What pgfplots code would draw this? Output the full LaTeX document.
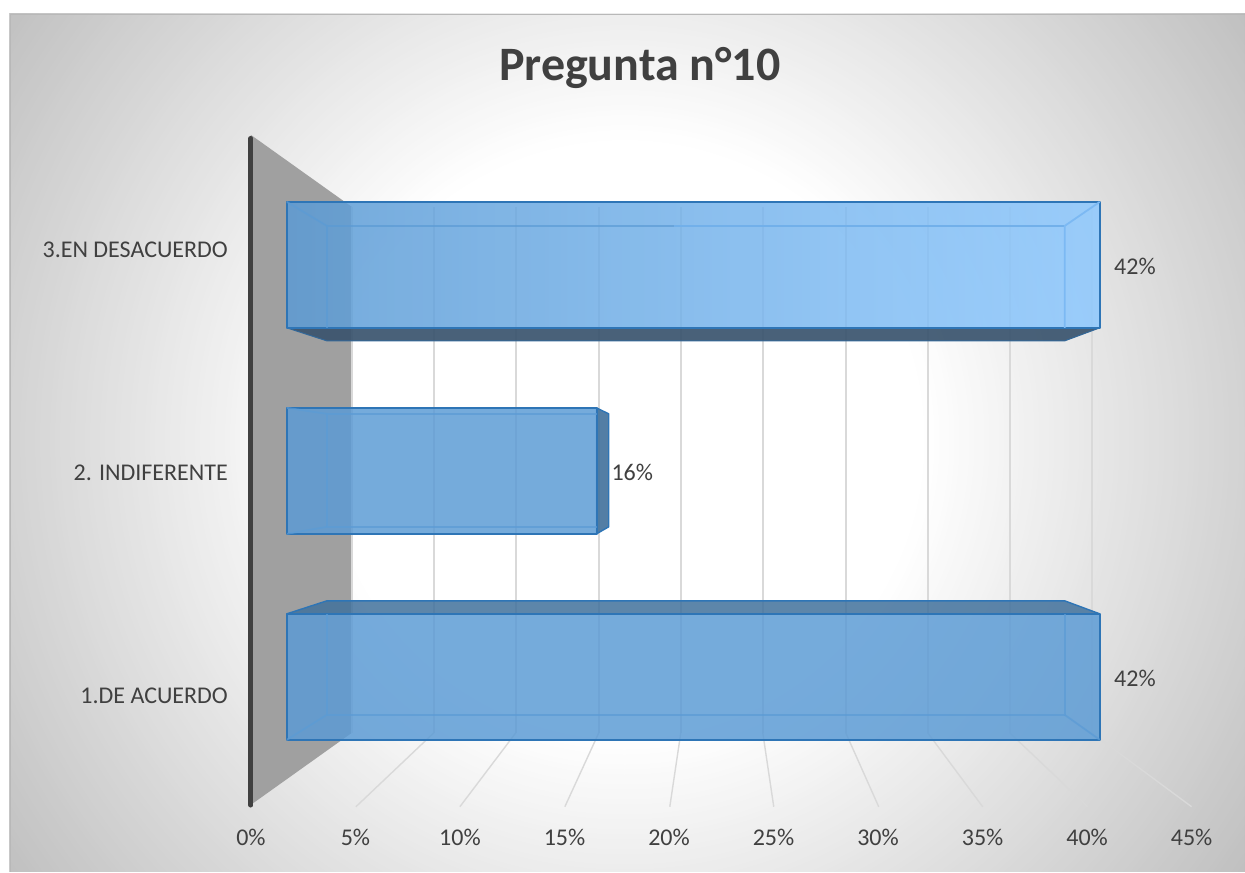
\documentclass[border=0pt]{standalone}
\usepackage{pgfplots}
\pgfplotsset{compat=1.18}
\usepackage{fontspec}
\setmainfont{Carlito}

\definecolor{txt}{HTML}{404040}
\definecolor{wall}{HTML}{A0A0A0}
\definecolor{gridc}{HTML}{D9D9D9}
\definecolor{barc}{HTML}{5B9BD5}
\definecolor{barlight}{HTML}{8CC8FF}
\definecolor{backlight}{HTML}{7CB9F3}
\definecolor{edgec}{HTML}{2E75B6}
\definecolor{darkc}{HTML}{41719C}
\definecolor{under}{HTML}{3A546E}

\pgfplotsset{
  lab/.style={
    point meta=x,
    nodes near coords={\pgfmathprintnumber{\pgfplotspointmeta}\%},
    every node near coord/.append style={text=txt,text opacity=1,fill opacity=1,
      font=\fontsize{12}{14}\selectfont,anchor=west,inner sep=0pt,xshift=6.75pt,yshift=-1pt}},
  back/.style={barc,line width=0.9pt,opacity=0.7,line join=round},
  front/.style={xbar,bar shift=0pt,bar width=63pt,draw=edgec,line width=1pt,
    line join=round,fill opacity=0.84,lab},
}

\begin{document}
\begin{tikzpicture}[x=1pt,y=1pt]
  % page and chart panel, 1 px = 0.5 pt
  \fill[white] (0,0) rectangle (622.5,436);
  \begin{scope}
    \clip (5,0) rectangle (622.5,429);
    \foreach \r in {400,397.5,...,150} {
      \pgfmathsetmacro{\p}{0.108*(\r-150)}
      \fill[black!\p] (312.5,216) circle (\r);
    }
    \fill[white] (312.5,216) circle (150);
  \end{scope}
  \draw[black!28,line width=0.4pt] (5,0) -- (5,429) -- (622.5,429);

  % wall, floor and back grid in pixel coordinates
  \begin{axis}[
      at={(0,0)},anchor=south west,scale only axis,
      width=622.5pt,height=436pt,
      xmin=0,xmax=1245,ymin=0,ymax=872,y dir=reverse,
      hide axis,clip=false,unbounded coords=jump]
    \addplot[fill=wall,draw=none] coordinates {(251,135)(352,207)(352,733)(251,805)} --cycle;
    \addplot[gridc,line width=1pt] coordinates {
      (352,207)(352,733)(352,nan)
      (434,207)(434,733)(434,nan)
      (516,207)(516,733)(516,nan)
      (599,207)(599,733)(599,nan)
      (681,207)(681,733)(681,nan)
      (763,207)(763,733)(763,nan)
      (846,207)(846,733)(846,nan)
      (928,207)(928,733)(928,nan)
      (1010,207)(1010,733)(1010,nan)
      (1092,207)(1092,733)};
    \addplot[gridc,line width=0.7pt] coordinates {
      (434,733)(356,807)(356,nan)
      (516,733)(460,807)(460,nan)
      (599,733)(565,807)(565,nan)
      (681,733)(670,807)(670,nan)
      (763,733)(774,807)(774,nan)
      (846,733)(879,807)(879,nan)
      (928,733)(983,807)(983,nan)
      (1010,733)(1088,807)(1088,nan)
      (1092,733)(1192,807)};
    \node[text=txt,font=\fontsize{24}{28}\selectfont\bfseries] at (axis cs:640,68) {Pregunta n°10};
  \end{axis}

  % value and category axis of the front plane
  \begin{axis}[
      at={(125.5pt,32.25pt)},anchor=south west,scale only axis,
      width=470.5pt,height=334.5pt,
      xmin=0,xmax=45,ymin=-0.5,ymax=2.5,
      xtick={0,5,...,45},
      xticklabel={\pgfmathprintnumber{\tick}\%},
      ytick={0,1,2},
      yticklabels={1.DE ACUERDO,2. INDIFERENTE,3.EN DESACUERDO},
      /pgf/number format/assume math mode=true,
      axis line style={draw=none},
      major tick length=0pt,
      tick label style={text=txt,font=\fontsize{12}{14}\selectfont},
      x tick label style={yshift=-7.5pt},
      y tick label style={xshift=-8pt},
      clip=false]
    \addplot[color=txt,line width=2.5pt,line cap=round] coordinates {(0,-0.49)(0,2.5)};
  \end{axis}

  % bars, x in percent, y by category
  \begin{axis}[
      at={(0,0)},anchor=south west,scale only axis,
      width=622.5pt,height=436pt,
      xmin=-14.827,xmax=49.49,ymin=-0.9466,ymax=3.2864,
      hide axis,clip=false,
      /pgf/number format/assume math mode=true]

    % 3. EN DESACUERDO
    \addplot[fill=under,fill opacity=0.92,draw=edgec!60!under,line width=0.5pt,line join=round] coordinates {(0,1.6942)(42,1.6942)(40.19,1.6311)(2.066,1.6311)} --cycle;
    \addplot[front,left color=barc,right color=barlight] coordinates {(42,2)};
    \addplot[back] coordinates {(2.066,1.6942)(2.066,2.1893)(20,2.1893)};
    \addplot[back] coordinates {(0,2.3058)(2.066,2.1893)};
    \addplot[backlight!70!barc,line width=0.9pt] coordinates {(20,2.1893)(40.19,2.1893)};
    \addplot[backlight,line width=0.9pt] coordinates {(40.19,1.6942)(40.19,2.1893)(42,2.3058)};

    % 2. INDIFERENTE
    \addplot[fill=darkc,fill opacity=0.9,draw=edgec,line width=0.7pt,line join=round] coordinates {(16,1.3058)(16.63,1.2767)(16.63,0.7282)(16,0.6942)} --cycle;
    \addplot[front,fill=barc,every node near coord/.append style={xshift=0.25pt}] coordinates {(16,1)};
    \addplot[back] coordinates {(16,1.2767)(2.066,1.2767)(2.066,0.7282)(16,0.7282)};
    \addplot[back] coordinates {(0,1.3058)(2.066,1.2767)};
    \addplot[back] coordinates {(0,0.6942)(2.066,0.7282)};

    % 1. DE ACUERDO
    \addplot[fill=darkc,fill opacity=0.85,draw=edgec,line width=0.7pt,line join=round] coordinates {(0,0.3058)(42,0.3058)(40.19,0.3689)(2.066,0.3689)} --cycle;
    \addplot[front,fill=barc] coordinates {(42,0)};
    \addplot[back] coordinates {(2.066,0.3058)(2.066,-0.1845)(40.19,-0.1845)(40.19,0.3058)};
    \addplot[back] coordinates {(0,-0.3058)(2.066,-0.1845)};
    \addplot[back] coordinates {(42,-0.3058)(40.19,-0.1845)};
  \end{axis}
\end{tikzpicture}
\end{document}
